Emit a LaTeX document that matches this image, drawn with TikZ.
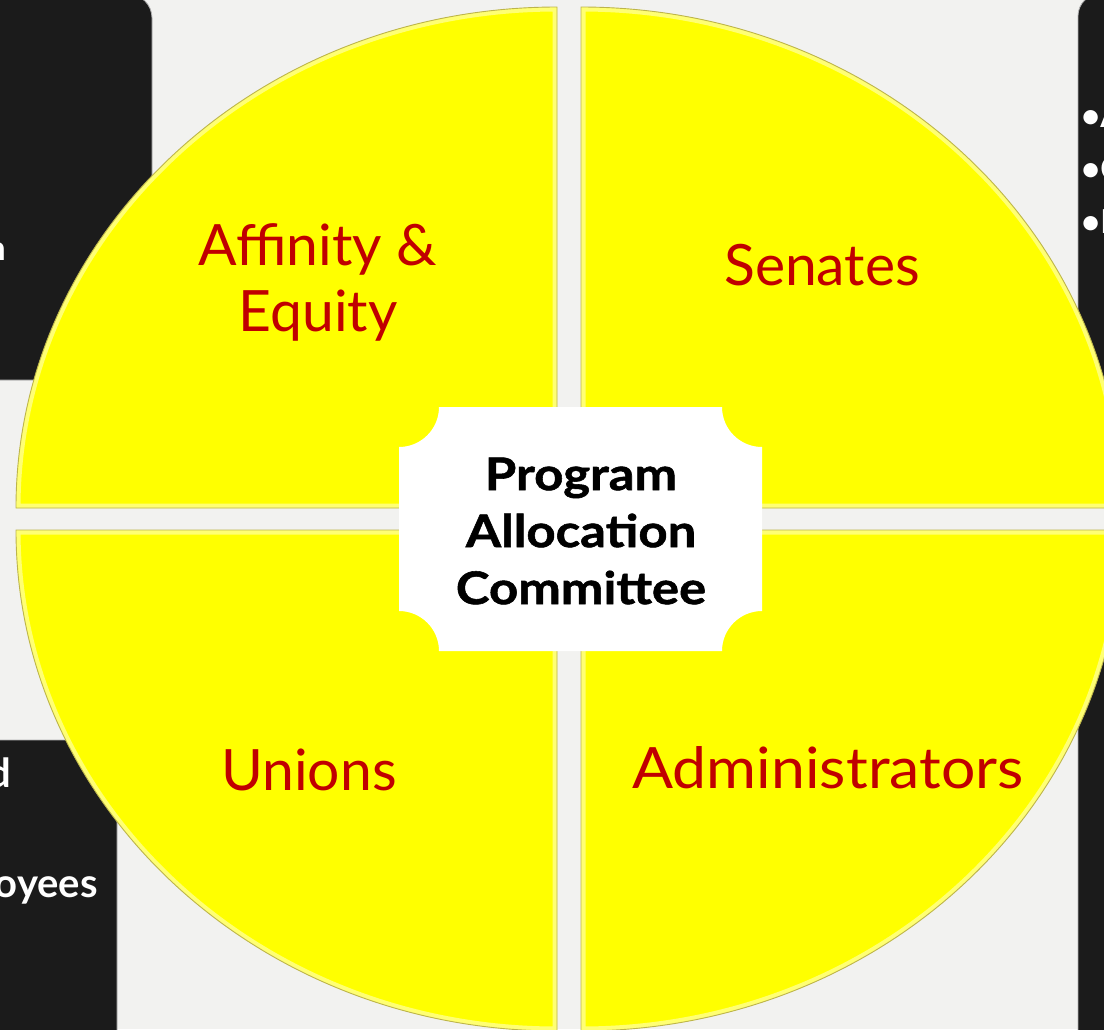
\documentclass[tikz,border=0pt]{standalone}
\usepackage{fontspec}
\usepackage{graphicx}
\setmainfont{Lato}
\newfontfamily\pacfont[FakeStretch=1.13,FakeBold=1.2]{Lato}
\definecolor{bgc}{HTML}{F2F2F0}
\definecolor{boxc}{HTML}{1B1B1B}
\definecolor{yel}{HTML}{FFFF00}
\definecolor{lblred}{HTML}{C00000}
\definecolor{edgec}{HTML}{BDB54A}
\tikzset{
  darkbox/.style={fill=boxc, draw=gray!60, line width=0.8pt},
  qlabel/.style={text=lblred, font=\fontsize{57}{66}\selectfont, inner sep=0pt, align=center},
  sidetext/.style={text=white, font=\bfseries\fontsize{40}{46}\selectfont, inner sep=0pt},
  bullettext/.style={text=white, font=\bfseries\fontsize{33}{40}\selectfont, inner sep=0pt, anchor=base west},
}
\begin{document}
\begin{tikzpicture}[x=1pt,y=-1pt]
\useasboundingbox (0,0) rectangle (1104,1029);
\fill[bgc] (0,0) rectangle (1104,1029);
% side boxes
\begin{scope}
\clip (0,0) rectangle (1104,1029);
\path[darkbox, rounded corners=24pt] (-30,-6) rectangle (152,380);
\path[darkbox, rounded corners=8pt] (-30,740) rectangle (117,1060);
\path[darkbox, rounded corners=22pt] (1078,-6) rectangle (1140,470);
\path[darkbox, rounded corners=22pt] (1078,570) rectangle (1140,1060);
\node[sidetext, anchor=base east, font=\bfseries\fontsize{34}{40}\selectfont] (tn) at (6,260) {n};
\node[sidetext, anchor=base east] (td) at (11,787) {d};
\node[sidetext, anchor=base east] (toy) at (98,897) {oyees};
\node[bullettext] (ra) at (1081,127) {•A};
\node[bullettext] (rc) at (1081,180) {•C};
\node[bullettext] (ri) at (1081,233) {•I};
\end{scope}
% quadrants
\begin{scope}
\clip (0,0) rectangle (1104,1029);
\def\qTL{(557,508) -- (557,7) arc[start angle=270, end angle=180, x radius=541, y radius=501] -- cycle}
\def\qTR{(581,508) -- (581,7) arc[start angle=270, end angle=360, x radius=541, y radius=501] -- cycle}
\def\qBL{(557,530) -- (557,1031) arc[start angle=90, end angle=180, x radius=541, y radius=501] -- cycle}
\def\qBR{(581,530) -- (581,1031) arc[start angle=90, end angle=0, x radius=541, y radius=501] -- cycle}
\foreach \q in {\qTL,\qTR,\qBL,\qBR}{
  \fill[yel] \q;
  \begin{scope}
    \clip \q;
    \draw[white, opacity=0.45, line width=9pt] \q;
  \end{scope}
  \draw[edgec, line width=0.9pt] \q;
}
\end{scope}
% center plaque
\fill[white] (439,407) -- (722,407) arc[start angle=180, end angle=90, radius=40]
  -- (762,611) arc[start angle=270, end angle=180, radius=40]
  -- (439,651) arc[start angle=0, end angle=-90, radius=40]
  -- (399,447) arc[start angle=90, end angle=0, radius=40] -- cycle;
\node[font=\pacfont\bfseries\fontsize{45}{57}\selectfont, align=center, inner sep=0pt] (pac) at (581,531) {Program\\Allocation\\Committee};
% labels
\node[qlabel, anchor=center] (aff) at (318,282) {Affinity \&\\Equity};
\node[qlabel, anchor=base] (sen) at (822,285) {Senates};
\node[qlabel, anchor=base] (uni) at (309,790) {Unions};
\node[qlabel, anchor=base] (adm) at (828,788) {\scalebox{1.065}[1]{Administrators}};
\end{tikzpicture}
\end{document}
